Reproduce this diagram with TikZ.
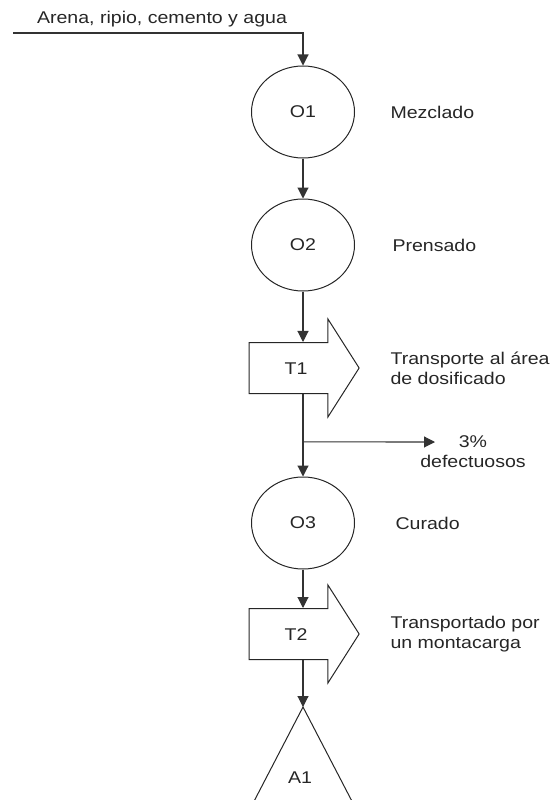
\documentclass[tikz,border=0pt]{standalone}
\usepackage{fontspec}
\setmainfont{Liberation Sans}[FakeStretch=1.15]
\usepackage{tikz}
\usetikzlibrary{arrows.meta,positioning,shapes.geometric,shapes.arrows}

\begin{document}
\begin{tikzpicture}[x=1pt,y=-1pt,>={Triangle[width=11pt,length=11pt]},
  every node/.style={font=\fontsize{17}{20}\selectfont, text=black!85},
  oper/.style={draw=black!85, line width=1pt, ellipse, minimum width=103pt,
               minimum height=92pt, inner sep=0pt},
  transp/.style={draw=black!85, line width=1pt, single arrow,
                 single arrow tip angle=115, single arrow head extend=23.5pt,
                 single arrow head indent=0pt, minimum height=110pt,
                 text height=12pt, text depth=0pt, inner ysep=19pt, inner xsep=0pt},
  flow/.style={->, line width=1.1pt, draw=black!80},
  desc/.style={anchor=west, align=left}]
  \useasboundingbox (0,0) rectangle (552,800);
  \clip (0,0) rectangle (552,800);

  % raw material
  \coordinate (src) at (13,33);
  \node (mat) at (162,19) {Arena, ripio, cemento y agua};

  % operations and transports
  \node[oper] (O1) at (303,112) {O1};
  \node[oper] (O2) at (303,245) {O2};
  \node[transp] (T1) at (296,368) {T1};
  \node[oper] (O3) at (303,523) {O3};
  \node[transp] (T2) at (296,634) {T2};

  % storage
  \coordinate (A1top) at (303,707);
  \draw[draw=black!85, line width=1pt] (A1top) -- ++(-66,127) -- ++(132,0) -- cycle;
  \node (A1) at (300,778) {A1};

  % descriptions
  \node[desc] (dO1) at (387,112) {Mezclado};
  \node[desc] (dO2) at (389,245) {Prensado};
  \node[desc] (dT1) at (387,368) {Transporte al área\\de dosificado};
  \node[desc] (dO3) at (392,523) {Curado};
  \node[desc] (dT2) at (387,634) {Transportado por\\un montacarga};

  % flow
  \draw[flow] (src) -| (O1.north);
  \draw[flow] (O1) -- (O2);
  \draw[flow] (O2.south) -- (O2.south |- T1.north);
  \draw[flow] (O3.north |- T1.south) -- (O3.north);
  \draw[flow] (O3.south) -- (O3.south |- T2.north);
  \draw[flow] (A1top |- T2.south) -- (A1top);

  % rejects
  \path (O3.north |- T1.south) -- (O3.north) coordinate[pos=0.58] (split);
  \coordinate (rej) at (435,442);
  \draw[flow] (split) -- (rej);
  \node[align=center] (drej) at (473,452) {3\%\\defectuosos};
\end{tikzpicture}
\end{document}
